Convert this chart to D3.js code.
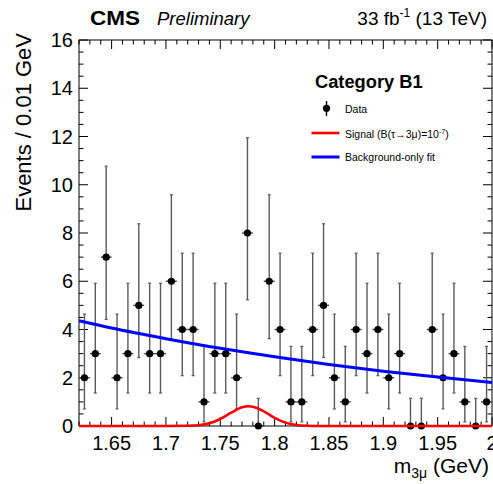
<!DOCTYPE html>
<html>
<head>
<meta charset="utf-8">
<script src="https://cdn.jsdelivr.net/npm/d3@7"></script>
<style>
  body { margin: 0; background: #fff; }
  svg { display: block; font-family: "Liberation Sans", Arial, sans-serif; }
</style>
</head>
<body>
<div id="chart"></div>
<script>
var svgWidth = 493;
var svgHeight = 484;

// bin centres (0.01 GeV bins) and observed counts
var binCenters = [1.625, 1.635, 1.645, 1.655, 1.665, 1.675, 1.685, 1.695, 1.705, 1.715,
                  1.725, 1.735, 1.745, 1.755, 1.765, 1.775, 1.785, 1.795, 1.805, 1.815,
                  1.825, 1.835, 1.845, 1.855, 1.865, 1.875, 1.885, 1.895, 1.905, 1.915,
                  1.925, 1.935, 1.945, 1.955, 1.965, 1.975, 1.985, 1.995];
var counts = [2, 3, 7, 2, 3, 5, 3, 3, 6, 4,
              4, 1, 3, 3, 2, 8, 0, 6, 4, 1,
              1, 4, 5, 2, 1, 4, 3, 4, 2, 3,
              0, 0, 4, 2, 3, 1, 0, 1];

// poisson interval edges, looked up by count
var poissonLow  = [0, 0.173, 0.708, 1.367, 2.086, 2.840, 3.620, 4.419, 5.232];
var poissonHigh = [1.148, 3.300, 4.638, 5.918, 7.163, 8.382, 9.584, 10.77, 11.95];

// background-only fit
var bkgMass = [1.62, 1.65, 1.70, 1.75, 1.80, 1.85, 1.90, 1.95, 2.00];
var bkgValue = [4.36, 4.06, 3.62, 3.22, 2.87, 2.55, 2.27, 2.03, 1.80];

// signal shape
var sigMass = [1.62, 1.70, 1.72, 1.73, 1.74, 1.75, 1.76, 1.77, 1.776, 1.78, 1.79, 1.80, 1.81, 1.82, 1.83, 1.84, 2.00];
var sigValue = [0, 0, 0.008, 0.03, 0.11, 0.29, 0.55, 0.78, 0.82, 0.80, 0.61, 0.34, 0.14, 0.04, 0.008, 0, 0];

var xTicks = [1.65, 1.7, 1.75, 1.8, 1.85, 1.9, 1.95, 2];
var yTicks = [0, 2, 4, 6, 8, 10, 12, 14, 16];

var frame = { left: 79, right: 492, top: 40, bottom: 426 };

var svg = d3.select("#chart")
    .append("svg")
    .attr("width", svgWidth)
    .attr("height", svgHeight);

var xScale = d3.scaleLinear().domain([1.62, 2.0]).range([frame.left, frame.right]);
var yScale = d3.scaleLinear().domain([0, 16]).range([frame.bottom, frame.top]);

// ticks on all four sides, pointing inward
var tickGroup = svg.append("g").attr("stroke", "#000").attr("stroke-width", 1);

var xMinor = d3.range(1.62, 2.0001, 0.01);
xMinor.forEach(v => {
    var isMajor = Math.abs(v * 20 - Math.round(v * 20)) < 1e-6;
    var len = isMajor ? 9 : 4.5;
    var px = xScale(v);
    tickGroup.append("line").attr("x1", px).attr("x2", px)
        .attr("y1", frame.bottom).attr("y2", frame.bottom - len);
    tickGroup.append("line").attr("x1", px).attr("x2", px)
        .attr("y1", frame.top).attr("y2", frame.top + len);
});

var yMinor = d3.range(0, 16.001, 0.5);
yMinor.forEach(v => {
    var isMajor = Math.abs(v / 2 - Math.round(v / 2)) < 1e-6;
    var len = isMajor ? 9 : 4.5;
    var py = yScale(v);
    tickGroup.append("line").attr("x1", frame.left).attr("x2", frame.left + len)
        .attr("y1", py).attr("y2", py);
    tickGroup.append("line").attr("x1", frame.right).attr("x2", frame.right - len)
        .attr("y1", py).attr("y2", py);
});

svg.append("rect")
    .attr("x", frame.left)
    .attr("y", frame.top)
    .attr("width", frame.right - frame.left)
    .attr("height", frame.bottom - frame.top)
    .attr("fill", "none")
    .attr("stroke", "#000")
    .attr("stroke-width", 1);

// tick labels
svg.append("g").selectAll("text")
    .data(xTicks)
    .enter()
    .append("text")
    .attr("x", d => xScale(d))
    .attr("y", 450)
    .attr("text-anchor", "middle")
    .attr("font-size", 20)
    .text(d => d3.format("")(d));

svg.append("g").selectAll("text")
    .data(yTicks)
    .enter()
    .append("text")
    .attr("x", 73)
    .attr("y", d => yScale(d) + 7)
    .attr("text-anchor", "end")
    .attr("font-size", 20)
    .text(d => d);

// data points
var points = binCenters.map((c, i) => ({ x: c, n: counts[i] }));
var dataGroup = svg.append("g");

var pts = dataGroup.selectAll("g")
    .data(points)
    .enter()
    .append("g");

pts.append("line")
    .attr("x1", d => xScale(d.x)).attr("x2", d => xScale(d.x))
    .attr("y1", d => yScale(poissonLow[d.n])).attr("y2", d => yScale(poissonHigh[d.n]))
    .attr("stroke", "#5a5a5a").attr("stroke-width", 1.4);

pts.append("line")
    .attr("x1", d => xScale(d.x) - 1.5).attr("x2", d => xScale(d.x) + 1.5)
    .attr("y1", d => yScale(poissonHigh[d.n])).attr("y2", d => yScale(poissonHigh[d.n]))
    .attr("stroke", "#5a5a5a").attr("stroke-width", 1.2);

pts.filter(d => d.n > 0).append("line")
    .attr("x1", d => xScale(d.x) - 1.5).attr("x2", d => xScale(d.x) + 1.5)
    .attr("y1", d => yScale(poissonLow[d.n])).attr("y2", d => yScale(poissonLow[d.n]))
    .attr("stroke", "#5a5a5a").attr("stroke-width", 1.2);

pts.append("line")
    .attr("x1", d => xScale(d.x - 0.005)).attr("x2", d => xScale(d.x + 0.005))
    .attr("y1", d => yScale(d.n)).attr("y2", d => yScale(d.n))
    .attr("stroke", "#444").attr("stroke-width", 1.4);

pts.append("circle")
    .attr("cx", d => xScale(d.x))
    .attr("cy", d => yScale(d.n))
    .attr("r", 3.6)
    .attr("fill", "#000");

// curves
var curveLine = d3.line()
    .x(d => xScale(d[0]))
    .y(d => yScale(d[1]))
    .curve(d3.curveMonotoneX);

svg.append("path")
    .datum(bkgMass.map((m, i) => [m, bkgValue[i]]))
    .attr("d", curveLine)
    .attr("fill", "none")
    .attr("stroke", "#0000ff")
    .attr("stroke-width", 3);

svg.append("path")
    .datum(sigMass.map((m, i) => [m, sigValue[i]]))
    .attr("d", curveLine)
    .attr("fill", "none")
    .attr("stroke", "#ff0000")
    .attr("stroke-width", 2.6);

// header
svg.append("text")
    .attr("x", 90).attr("y", 25)
    .attr("font-size", 21).attr("font-weight", "bold")
    .attr("textLength", 50).attr("lengthAdjust", "spacingAndGlyphs")
    .text("CMS");

svg.append("text")
    .attr("x", 157).attr("y", 25)
    .attr("font-size", 18.5).attr("font-style", "italic")
    .text("Preliminary");

var lumi = svg.append("text")
    .attr("x", 487).attr("y", 25)
    .attr("text-anchor", "end")
    .attr("font-size", 19);
lumi.append("tspan").text("33 fb");
lumi.append("tspan").attr("font-size", 12).attr("dy", -8).text("-1");
lumi.append("tspan").attr("dy", 8).text(" (13 TeV)");

// axis titles
svg.append("text")
    .attr("transform", "translate(31, 33) rotate(-90)")
    .attr("text-anchor", "end")
    .attr("font-size", 22)
    .text("Events / 0.01 GeV");

var xTitle = svg.append("text")
    .attr("x", 489).attr("y", 473)
    .attr("text-anchor", "end")
    .attr("font-size", 21);
xTitle.append("tspan").text("m");
xTitle.append("tspan").attr("font-size", 14).attr("dy", 5).text("3μ");
xTitle.append("tspan").attr("dy", -5).text(" (GeV)");

// legend
svg.append("text")
    .attr("x", 315).attr("y", 88)
    .attr("font-size", 18.3).attr("font-weight", "bold")
    .text("Category B1");

var legend = svg.append("g");
legend.append("line")
    .attr("x1", 326.5).attr("x2", 326.5).attr("y1", 101).attr("y2", 116)
    .attr("stroke", "#000").attr("stroke-width", 1.4);
legend.append("circle")
    .attr("cx", 326.5).attr("cy", 108.3).attr("r", 3.6).attr("fill", "#000");
legend.append("text")
    .attr("x", 345).attr("y", 112.5).attr("font-size", 10.5)
    .text("Data");

legend.append("line")
    .attr("x1", 311.5).attr("x2", 339.5).attr("y1", 133).attr("y2", 133)
    .attr("stroke", "#ff0000").attr("stroke-width", 2.6);
var sigText = legend.append("text")
    .attr("x", 345).attr("y", 137.5).attr("font-size", 10.5);
sigText.append("tspan").text("Signal (B(τ→3μ)=10");
sigText.append("tspan").attr("font-size", 7).attr("dy", -4).text("-7");
sigText.append("tspan").attr("dy", 4).text(")");

legend.append("line")
    .attr("x1", 311.5).attr("x2", 339.5).attr("y1", 157).attr("y2", 157)
    .attr("stroke", "#0000ff").attr("stroke-width", 3);
legend.append("text")
    .attr("x", 345).attr("y", 161).attr("font-size", 10.5)
    .text("Background-only fit");
</script>
</body>
</html>
